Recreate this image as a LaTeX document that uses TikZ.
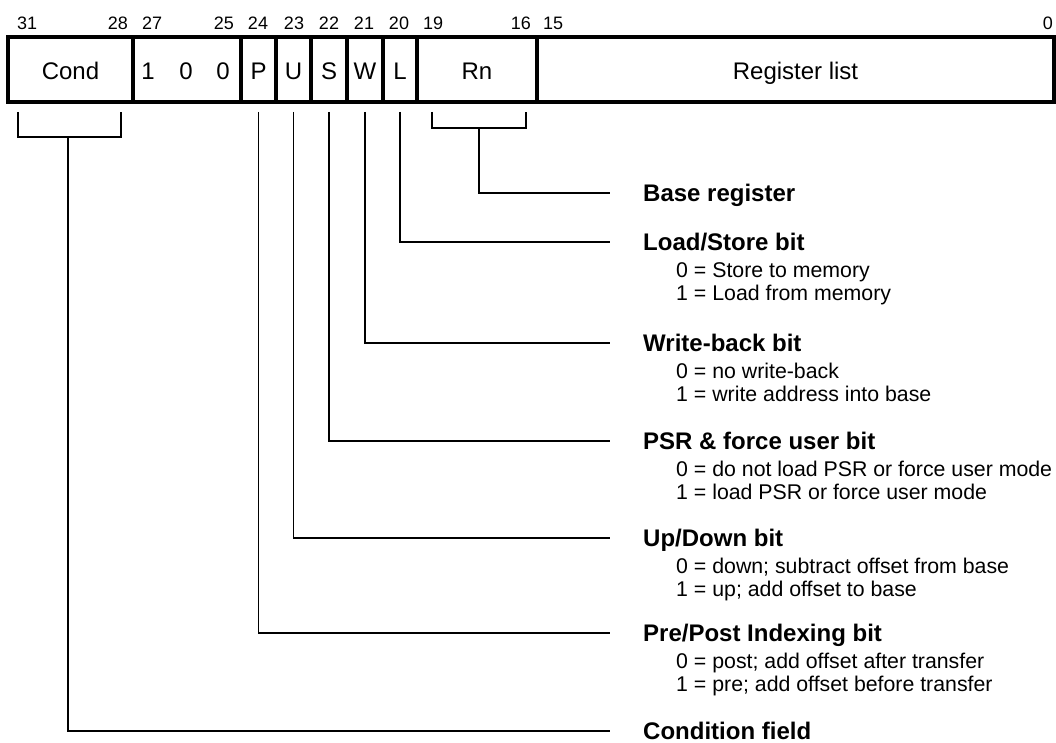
\documentclass[tikz,border=0pt]{standalone}
\usepackage{fontspec}
\setmainfont{Liberation Sans}
\begin{document}
\begin{tikzpicture}[x=1pt,y=-1pt,
  field/.style={draw, line width=3.3pt, minimum height=65pt, inner sep=0pt, outer sep=0pt,
    text height=20pt, text depth=0pt, font=\fontsize{24}{28}\selectfont, anchor=north west},
  boxtext/.style={inner sep=0pt, text height=20pt, text depth=0pt, font=\fontsize{24}{28}\selectfont},
  bitnum/.style={font=\fontsize{18}{20}\selectfont, inner sep=0pt, text height=12.9pt, text depth=0pt},
  title/.style={font=\bfseries\fontsize{24}{28}\selectfont, inner sep=0pt, anchor=west,
    text height=17.2pt, text depth=0pt},
  sub/.style={font=\fontsize{21.3}{24}\selectfont, inner sep=0pt, anchor=base west},
  conn/.style={line width=1.2pt}
]
\useasboundingbox (0,0) rectangle (1056,743);

% bit numbers
\node[bitnum, anchor=west] (n31) at (17,23) {31};
\node[bitnum, anchor=east] (n28) at (128,23) {28};
\node[bitnum, anchor=west] (n27) at (142,23) {27};
\node[bitnum, anchor=east] (n25) at (234,23) {25};
\node[bitnum] (n24) at (258,23) {24};
\node[bitnum] (n23) at (294,23) {23};
\node[bitnum] (n22) at (329,23) {22};
\node[bitnum] (n21) at (364,23) {21};
\node[bitnum] (n20) at (399,23) {20};
\node[bitnum, anchor=west] (n19) at (423,23) {19};
\node[bitnum, anchor=east] (n16) at (531,23) {16};
\node[bitnum, anchor=west] (n15) at (543,23) {15};
\node[bitnum, anchor=east] (n0) at (1053,23) {0};

% fields
\node[field, minimum width=125pt] (fCond) at (8,37) {Cond};
\node[field, minimum width=108pt] (fOp) at (133,37) {};
\node[field, minimum width=35pt] (fP) at (241,37) {P};
\node[field, minimum width=35pt] (fU) at (276,37) {U};
\node[field, minimum width=36pt] (fS) at (311,37) {S};
\node[field, minimum width=36pt] (fW) at (347,37) {W};
\node[field, minimum width=34pt] (fL) at (383,37) {L};
\node[field, minimum width=120pt] (fRn) at (417,37) {Rn};
\node[field, minimum width=517pt] (fReg) at (537,37) {Register list};
\node[boxtext] (b1) at (148,69.5) {1};
\node[boxtext] (b2) at (186,69.5) {0};
\node[boxtext] (b3) at (223,69.5) {0};

% titles
\node[title] (tBase) at (643,193) {Base register};
\node[title] (tLS) at (643,242) {Load/Store bit};
\node[title] (tWB) at (643,343) {Write-back bit};
\node[title] (tPSR) at (643,441) {PSR \& force user bit};
\node[title] (tUD) at (643,538) {Up/Down bit};
\node[title] (tPP) at (643,633) {Pre/Post Indexing bit};
\node[title] (tCond) at (643,731) {Condition field};

% descriptions
\node[sub] (sLS0) at (676,277.5) {0 = Store to memory};
\node[sub] (sLS1) at (676,300) {1 = Load from memory};
\node[sub] (sWB0) at (676,378.5) {0 = no write-back};
\node[sub] (sWB1) at (676,401) {1 = write address into base};
\node[sub] (sPSR0) at (676,476.5) {0 = do not load PSR or force user mode};
\node[sub] (sPSR1) at (676,499) {1 = load PSR or force user mode};
\node[sub] (sUD0) at (676,573.5) {0 = down; subtract offset from base};
\node[sub] (sUD1) at (676,596) {1 = up; add offset to base};
\node[sub] (sPP0) at (676,668.5) {0 = post; add offset after transfer};
\node[sub] (sPP1) at (676,691) {1 = pre; add offset before transfer};

% brackets
\coordinate (cbL) at (18,112);
\coordinate (cbR) at (121,112);
\coordinate (cStem) at (68,137);
\draw[conn] (cbL) -- (18,137) -- (121,137) -- (cbR);
\coordinate (rbL) at (432,112);
\coordinate (rbR) at (526,112);
\coordinate (rStem) at (479,128);
\draw[conn] (rbL) -- (432,128) -- (526,128) -- (rbR);

% connectors
\draw[conn] (rStem) |- ([xshift=-33pt]tBase.west);
\draw[conn] ([yshift=-10pt]fL.south) |- ([xshift=-33pt]tLS.west);
\draw[conn] ([yshift=-10pt]fW.south) |- ([xshift=-33pt]tWB.west);
\draw[conn] ([yshift=-10pt]fS.south) |- ([xshift=-33pt]tPSR.west);
\draw[conn] ([yshift=-10pt]fU.south) |- ([xshift=-33pt]tUD.west);
\draw[conn] ([yshift=-10pt]fP.south) |- ([xshift=-33pt]tPP.west);
\draw[conn] (cStem) |- ([xshift=-33pt]tCond.west);
\end{tikzpicture}
\end{document}
